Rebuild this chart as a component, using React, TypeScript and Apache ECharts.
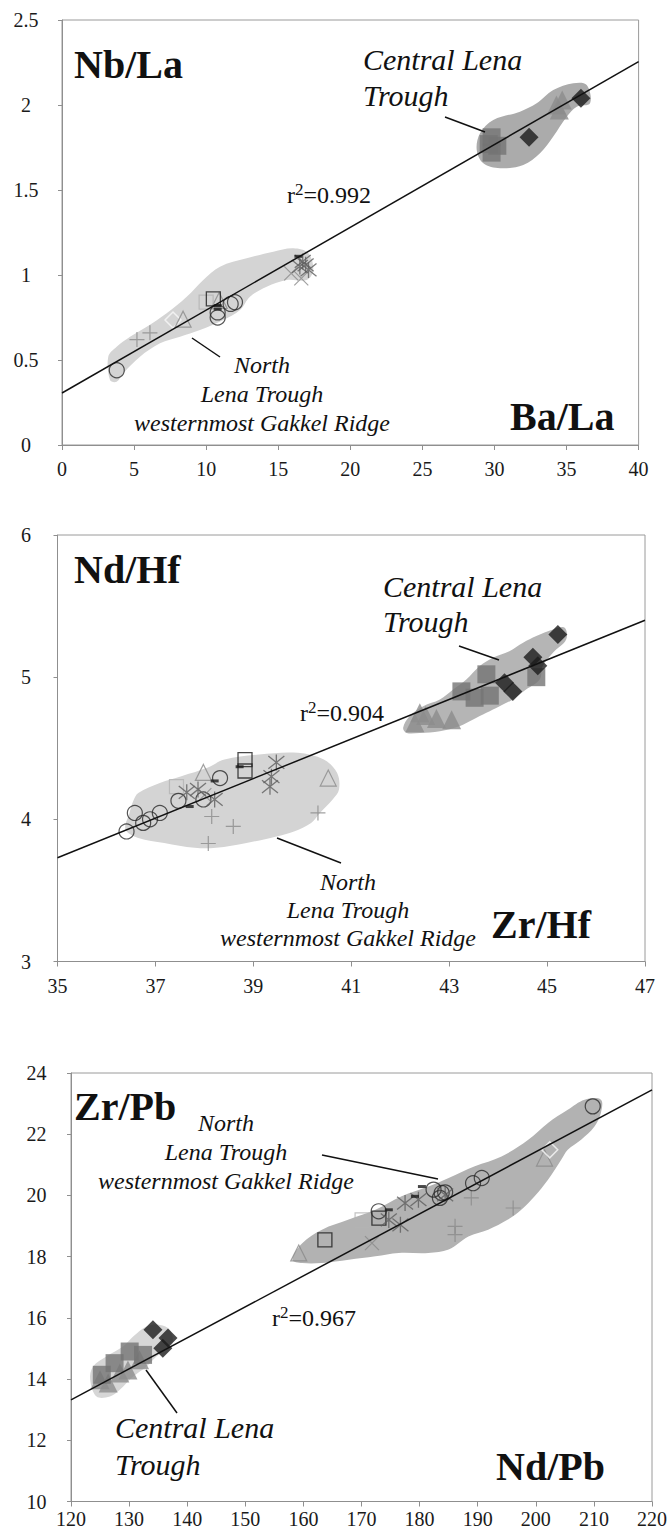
import { useEffect, useRef } from "react";
import * as echarts from "echarts";

const SERIF = "Liberation Serif";
const CLEAR = "rgba(0,0,0,0)";

// ---------- Panel A: Ba/La (x) vs Nb/La (y) ----------
const A_X = { min: 0, max: 40, step: 5 };
const A_Y = { min: 0, max: 2.5, step: 0.5 };
const A_FIT = [[0, 0.306], [40, 2.255]];
const A_CIRCLE = [[3.8, 0.44], [10.8, 0.78], [10.8, 0.75], [11.7, 0.83], [12.0, 0.84]];
const A_SQUARE = [[10.5, 0.86]];
const A_PALE_SQUARE = [[10.0, 0.84]];
const A_TRIANGLE = [[8.4, 0.74], [10.9, 0.85]];
const A_PLUS = [[5.2, 0.62], [6.1, 0.66]];
const A_CROSS = [[15.9, 1.01], [16.6, 0.98]];
const A_STAR = [[16.5, 1.05], [16.9, 1.06], [17.1, 1.03], [16.7, 1.08]];
const A_DASH = [[10.8, 0.82], [10.8, 0.8], [16.4, 1.11]];
const A_OPEN_DIAMOND = [[7.7, 0.735]];
const A_FILL_SQUARE = [[29.8, 1.81], [29.8, 1.72], [30.2, 1.76], [29.6, 1.77]];
const A_FILL_TRIANGLE = [[34.3, 2.0], [34.7, 2.03], [34.5, 1.97]];
const A_FILL_DIAMOND = [[32.4, 1.81], [36.0, 2.04]];
const A_NORTH_FIELD = [
  [3.33, 0.382], [3.21, 0.519], [3.79, 0.578], [4.72, 0.637], [5.88, 0.696], [7.26, 0.775],
  [8.65, 0.872], [9.8, 0.971], [10.96, 1.049], [12.81, 1.098], [14.66, 1.137], [16.05, 1.157],
  [17.09, 1.128], [17.43, 1.029], [16.98, 0.971], [15.59, 0.971], [14.2, 0.931], [13.04, 0.872],
  [12.35, 0.794], [11.19, 0.735], [9.57, 0.676], [8.19, 0.637], [6.8, 0.598], [5.41, 0.519],
  [4.25, 0.422], [3.79, 0.372],
];
const A_CENTRAL_FIELD = [
  [28.77, 1.735], [29.0, 1.834], [29.92, 1.912], [31.77, 1.961], [32.93, 2.01], [34.08, 2.088],
  [35.47, 2.128], [36.4, 2.118], [36.63, 2.01], [35.71, 1.99], [35.01, 1.931], [34.08, 1.814],
  [33.16, 1.716], [32.0, 1.647], [30.39, 1.628], [29.23, 1.657],
];

// ---------- Panel B: Zr/Hf (x) vs Nd/Hf (y) ----------
const B_X = { min: 35, max: 47, step: 2 };
const B_Y = { min: 3, max: 6, step: 1 };
const B_FIT = [[35, 3.73], [47, 5.4]];
const B_CIRCLE = [
  [36.41, 3.915], [36.58, 4.045], [36.75, 3.975], [36.89, 4.0], [37.09, 4.045],
  [37.47, 4.13], [37.98, 4.14], [38.32, 4.29],
];
const B_SQUARE = [[38.83, 4.42], [38.83, 4.34]];
const B_PALE_SQUARE = [[37.43, 4.23]];
const B_TRIANGLE = [[37.98, 4.33], [40.53, 4.29]];
const B_PLUS = [[38.15, 4.02], [38.59, 3.95], [38.08, 3.83], [40.32, 4.045]];
const B_CROSS = [[38.0, 4.17]];
const B_STAR = [[37.64, 4.19], [37.87, 4.21], [38.21, 4.14], [39.47, 4.4], [39.37, 4.3], [39.34, 4.23]];
const B_DASH = [[37.7, 4.09], [38.21, 4.27], [38.72, 4.37]];
const B_FILL_SQUARE = [[43.76, 5.02], [43.25, 4.9], [43.52, 4.855], [43.83, 4.87], [44.78, 5.0]];
const B_FILL_TRIANGLE = [[42.4, 4.75], [42.52, 4.73], [42.74, 4.71], [43.05, 4.7], [42.3, 4.68]];
const B_FILL_DIAMOND = [[45.22, 5.3], [44.71, 5.14], [44.81, 5.08], [44.13, 4.96], [44.3, 4.9]];
const B_NORTH_FIELD = [
  [36.65, 4.186], [37.09, 4.256], [37.53, 4.303], [38.06, 4.362], [38.41, 4.42], [39.12, 4.456],
  [39.91, 4.468], [40.44, 4.42], [40.71, 4.327], [40.75, 4.209], [40.62, 4.139], [40.36, 4.045],
  [40.18, 3.975], [39.83, 3.915], [39.47, 3.88], [38.86, 3.834], [38.24, 3.8], [37.8, 3.8],
  [37.18, 3.834], [36.65, 3.869], [36.39, 3.928], [36.47, 4.045], [36.56, 4.139],
];
const B_CENTRAL_FIELD = [
  [42.06, 4.644], [42.19, 4.725], [42.47, 4.796], [42.81, 4.843], [43.08, 4.913], [43.35, 4.984],
  [43.62, 5.077], [43.89, 5.137], [44.23, 5.183], [44.51, 5.242], [44.78, 5.289], [45.12, 5.336],
  [45.36, 5.348], [45.39, 5.265], [45.12, 5.172], [44.91, 5.077], [44.85, 4.984], [44.57, 4.913],
  [44.3, 4.843], [44.03, 4.796], [43.76, 4.749], [43.49, 4.702], [43.21, 4.655], [42.81, 4.62],
  [42.4, 4.608], [42.13, 4.608],
];

// ---------- Panel C: Nd/Pb (x) vs Zr/Pb (y) ----------
const C_X = { min: 120, max: 220, step: 10 };
const C_Y = { min: 10, max: 24, step: 2 };
const C_FIT = [[120, 13.32], [220, 23.45]];
const C_CIRCLE = [
  [209.8, 22.91], [189.2, 20.4], [190.7, 20.57], [182.4, 20.19], [183.8, 20.08],
  [183.5, 19.92], [172.96, 19.48], [184.4, 20.1],
];
const C_SQUARE = [[163.7, 18.55], [173.0, 19.26]];
const C_PALE_SQUARE = [[170.1, 19.2]];
const C_TRIANGLE = [[159.2, 18.12], [201.5, 21.22]];
const C_PLUS = [[188.9, 19.92], [196.1, 19.59], [186.1, 18.99], [186.1, 18.72]];
const C_CROSS = [[171.8, 18.44]];
const C_STAR = [[176.7, 19.04], [177.5, 19.75], [179.8, 19.86], [184.4, 20.02], [174.7, 19.2]];
const C_DASH = [[180.4, 20.29], [179.2, 19.97], [174.7, 19.53]];
const C_OPEN_DIAMOND = [[202.4, 21.49]];
const C_FILL_SQUARE = [[130.1, 14.9], [127.5, 14.52], [125.3, 14.14], [132.4, 14.79]];
const C_FILL_TRIANGLE = [[131.8, 14.63], [129.8, 14.3], [126.4, 13.87], [125.0, 13.98], [128.4, 14.2]];
const C_FILL_DIAMOND = [[134.1, 15.61], [136.7, 15.34], [135.8, 15.01]];
const C_NORTH_FIELD = [
  [158.1, 17.9], [159.8, 18.44], [163.2, 18.88], [167.8, 19.21], [172.4, 19.53], [176.9, 19.97],
  [181.5, 20.29], [185.0, 20.57], [189.5, 20.95], [194.1, 21.27], [198.7, 21.82], [202.1, 22.37],
  [205.5, 22.8], [208.4, 23.13], [211.2, 23.13], [211.2, 22.69], [210.1, 22.25], [207.8, 21.82],
  [205.5, 21.49], [204.4, 21.17], [202.1, 20.51], [199.8, 19.97], [197.5, 19.53], [195.2, 19.21],
  [191.8, 18.88], [188.4, 18.66], [185.0, 18.23], [181.5, 18.12], [176.4, 18.12], [172.4, 18.01],
  [167.8, 17.9], [163.2, 17.79], [159.8, 17.79],
];
const C_CENTRAL_FIELD = [
  [123.3, 13.98], [123.8, 14.41], [126.1, 14.74], [129.0, 15.07], [130.7, 15.39], [133.0, 15.72],
  [135.3, 15.77], [137.0, 15.61], [137.5, 15.18], [136.4, 14.96], [134.7, 14.74], [133.0, 14.41],
  [130.7, 14.08], [128.4, 13.65], [126.7, 13.43], [124.4, 13.43],
];

// ---------- marker styles ----------
const PLUS = "path://M0,5L10,5M5,0L5,10";
const CROSS = "path://M0,0L10,10M10,0L0,10";
const STAR = "path://M1,1L9,9M9,1L1,9M5,0L5,10";

const STYLE: Record<string, any> = {
  circle: { symbol: "circle", symbolSize: 15, itemStyle: { color: CLEAR, borderColor: "#2a2a2a", borderWidth: 1.2 } },
  square: { symbol: "rect", symbolSize: 14, itemStyle: { color: CLEAR, borderColor: "#1c1c1c", borderWidth: 1.3 } },
  paleSquare: { symbol: "rect", symbolSize: 14, itemStyle: { color: CLEAR, borderColor: "#b3b3b3", borderWidth: 1.2 } },
  triangle: { symbol: "triangle", symbolSize: 16, itemStyle: { color: CLEAR, borderColor: "#8a8a8a", borderWidth: 1.2 } },
  plus: { symbol: PLUS, symbolSize: 15, itemStyle: { color: CLEAR, borderColor: "#8a8a8a", borderWidth: 1.2 } },
  cross: { symbol: CROSS, symbolSize: 14, itemStyle: { color: CLEAR, borderColor: "#8a8a8a", borderWidth: 1.2 } },
  star: { symbol: STAR, symbolSize: 16, itemStyle: { color: CLEAR, borderColor: "#5e5e5e", borderWidth: 1.3 } },
  dash: { symbol: "rect", symbolSize: [8, 3], itemStyle: { color: "#1a1a1a" } },
  openDiamond: { symbol: "diamond", symbolSize: 16, itemStyle: { color: CLEAR, borderColor: "#f7f7f7", borderWidth: 1.5 } },
  fillSquare: { symbol: "rect", symbolSize: 18, itemStyle: { color: "#747474" } },
  fillTriangle: { symbol: "triangle", symbolSize: 19, itemStyle: { color: "#8c8c8c" } },
  fillDiamond: { symbol: "diamond", symbolSize: 19, itemStyle: { color: "#1c1c1c" } },
};

function marks(grid: number, sets: [string, number[][]][]) {
  return sets.map(([kind, data]) => ({
    type: "scatter",
    xAxisIndex: grid,
    yAxisIndex: grid,
    data,
    z: 3,
    silent: true,
    ...STYLE[kind],
  }));
}

function field(grid: number, outline: number[][], color: string) {
  return {
    type: "custom",
    xAxisIndex: grid,
    yAxisIndex: grid,
    data: [outline[0]],
    encode: { x: 0, y: 1 },
    z: 1,
    silent: true,
    renderItem: (_params: any, api: any) => ({
      type: "polygon",
      shape: { points: outline.map((p) => api.coord(p)), smooth: 0.35 },
      style: { fill: color },
    }),
  };
}

function fit(grid: number, data: number[][]) {
  return {
    type: "line",
    xAxisIndex: grid,
    yAxisIndex: grid,
    data,
    symbol: "none",
    z: 5,
    silent: true,
    lineStyle: { color: "#111111", width: 1.5 },
  };
}

const AXIS_GRAY = "#8f8f8f";

function xAxis(grid: number, r: { min: number; max: number; step: number }, margin: number) {
  return {
    type: "value",
    gridIndex: grid,
    min: r.min,
    max: r.max,
    interval: r.step,
    axisLine: { show: true, onZero: false, lineStyle: { color: AXIS_GRAY, width: 1 } },
    axisTick: { show: true, length: 5, lineStyle: { color: AXIS_GRAY } },
    splitLine: { show: false },
    axisLabel: { fontFamily: SERIF, fontSize: 20, color: "#1a1a1a", margin, showMinLabel: true, showMaxLabel: true },
  };
}

function yAxis(grid: number, r: { min: number; max: number; step: number }, margin: number) {
  return {
    type: "value",
    gridIndex: grid,
    min: r.min,
    max: r.max,
    interval: r.step,
    axisLine: { show: true, onZero: false, lineStyle: { color: AXIS_GRAY, width: 1 } },
    axisTick: { show: true, length: 4, lineStyle: { color: AXIS_GRAY } },
    splitLine: { show: false },
    axisLabel: { fontFamily: SERIF, fontSize: 20, color: "#1a1a1a", margin, align: "center", showMinLabel: true, showMaxLabel: true },
  };
}

function text(x: number, y: number, s: string, size: number, opt: any = {}) {
  return {
    type: "text",
    x,
    y,
    silent: true,
    z: 10,
    style: {
      text: s,
      fontFamily: SERIF,
      fontSize: size,
      fontWeight: opt.bold ? "bold" : "normal",
      fontStyle: opt.italic ? "italic" : "normal",
      fill: "#111111",
      align: opt.align || "left",
      verticalAlign: "middle",
      lineHeight: opt.lineHeight,
    },
  };
}

function rsq(x: number, y: number, value: string) {
  return {
    type: "text",
    x,
    y,
    silent: true,
    z: 10,
    style: {
      text: `{a|r}{b|2}{a|=${value}}`,
      align: "left",
      verticalAlign: "middle",
      rich: {
        a: { fontFamily: SERIF, fontSize: 24, fill: "#111111", color: "#111111", lineHeight: 26, verticalAlign: "bottom" },
        b: { fontFamily: SERIF, fontSize: 17, fill: "#111111", color: "#111111", lineHeight: 26, verticalAlign: "top" },
      },
    },
  };
}

function leader(x1: number, y1: number, x2: number, y2: number) {
  return {
    type: "line",
    silent: true,
    z: 10,
    shape: { x1, y1, x2, y2 },
    style: { stroke: "#111111", lineWidth: 1.5 },
  };
}

const NORTH = "North\nLena Trough\nwesternmost Gakkel Ridge";
const CENTRAL = "Central Lena\nTrough";

export default function App() {
  const ref = useRef<HTMLDivElement>(null);

  useEffect(() => {
    if (!ref.current) return;
    const chart = echarts.init(ref.current, undefined, { renderer: "svg" });
    chart.setOption({
      animation: false,
      backgroundColor: "#ffffff",
      textStyle: { fontFamily: SERIF },
      grid: [
        { left: 62, top: 20, width: 576.6, height: 425, show: true, borderColor: "#9a9a9a", borderWidth: 1 },
        { left: 57.5, top: 535, width: 587.5, height: 426.5, show: true, borderColor: "#9a9a9a", borderWidth: 1 },
        { left: 71, top: 1073, width: 583.5, height: 428.5, show: true, borderColor: "#9a9a9a", borderWidth: 1 },
      ],
      xAxis: [xAxis(0, A_X, 14), xAxis(1, B_X, 14), xAxis(2, C_X, 7)],
      yAxis: [yAxis(0, A_Y, 36), yAxis(1, B_Y, 31.5), yAxis(2, C_Y, 34.5)],
      series: [
        field(0, A_NORTH_FIELD, "#d4d4d4"),
        field(0, A_CENTRAL_FIELD, "#ababab"),
        ...marks(0, [
          ["plus", A_PLUS], ["openDiamond", A_OPEN_DIAMOND], ["triangle", A_TRIANGLE],
          ["paleSquare", A_PALE_SQUARE], ["square", A_SQUARE], ["circle", A_CIRCLE],
          ["cross", A_CROSS], ["star", A_STAR], ["dash", A_DASH],
          ["fillSquare", A_FILL_SQUARE], ["fillTriangle", A_FILL_TRIANGLE], ["fillDiamond", A_FILL_DIAMOND],
        ]),
        fit(0, A_FIT),

        field(1, B_NORTH_FIELD, "#d4d4d4"),
        field(1, B_CENTRAL_FIELD, "#b5b5b5"),
        ...marks(1, [
          ["plus", B_PLUS], ["triangle", B_TRIANGLE], ["paleSquare", B_PALE_SQUARE],
          ["square", B_SQUARE], ["circle", B_CIRCLE], ["cross", B_CROSS], ["star", B_STAR],
          ["dash", B_DASH],
          ["fillTriangle", B_FILL_TRIANGLE], ["fillSquare", B_FILL_SQUARE], ["fillDiamond", B_FILL_DIAMOND],
        ]),
        fit(1, B_FIT),

        field(2, C_NORTH_FIELD, "#b2b2b2"),
        field(2, C_CENTRAL_FIELD, "#d6d6d6"),
        ...marks(2, [
          ["plus", C_PLUS], ["triangle", C_TRIANGLE], ["openDiamond", C_OPEN_DIAMOND],
          ["paleSquare", C_PALE_SQUARE], ["square", C_SQUARE], ["circle", C_CIRCLE],
          ["cross", C_CROSS], ["star", C_STAR], ["dash", C_DASH],
          ["fillTriangle", C_FILL_TRIANGLE], ["fillSquare", C_FILL_SQUARE], ["fillDiamond", C_FILL_DIAMOND],
        ]),
        fit(2, C_FIT),
      ],
      graphic: [
        // Ba/La vs Nb/La
        text(74, 64, "Nb/La", 40, { bold: true }),
        text(510, 416, "Ba/La", 40, { bold: true }),
        text(363, 77, CENTRAL, 30, { italic: true, lineHeight: 36 }),
        text(262, 394, NORTH, 24, { italic: true, align: "center", lineHeight: 29 }),
        rsq(287, 194, "0.992"),
        leader(445, 117, 485, 132),
        leader(192, 338, 220, 357),

        // Zr/Hf vs Nd/Hf
        text(74, 569, "Nd/Hf", 40, { bold: true }),
        text(491, 924, "Zr/Hf", 40, { bold: true }),
        text(383, 604, CENTRAL, 30, { italic: true, lineHeight: 35 }),
        text(348, 910, NORTH, 24, { italic: true, align: "center", lineHeight: 28 }),
        rsq(300, 712, "0.904"),
        leader(459, 646, 499, 660),
        leader(277, 838, 341, 863),

        // Nd/Pb vs Zr/Pb
        text(74, 1106, "Zr/Pb", 40, { bold: true }),
        text(496, 1466, "Nd/Pb", 40, { bold: true }),
        text(115, 1446, CENTRAL, 30, { italic: true, lineHeight: 37 }),
        text(226, 1152, NORTH, 24, { italic: true, align: "center", lineHeight: 29 }),
        rsq(272, 1317, "0.967"),
        leader(322, 1155, 438, 1179),
        leader(146, 1370, 177, 1413),
      ],
    });
    return () => chart.dispose();
  }, []);

  return <div ref={ref} style={{ position: "absolute", left: 0, top: 0, width: 670, height: 1540 }} />;
}
